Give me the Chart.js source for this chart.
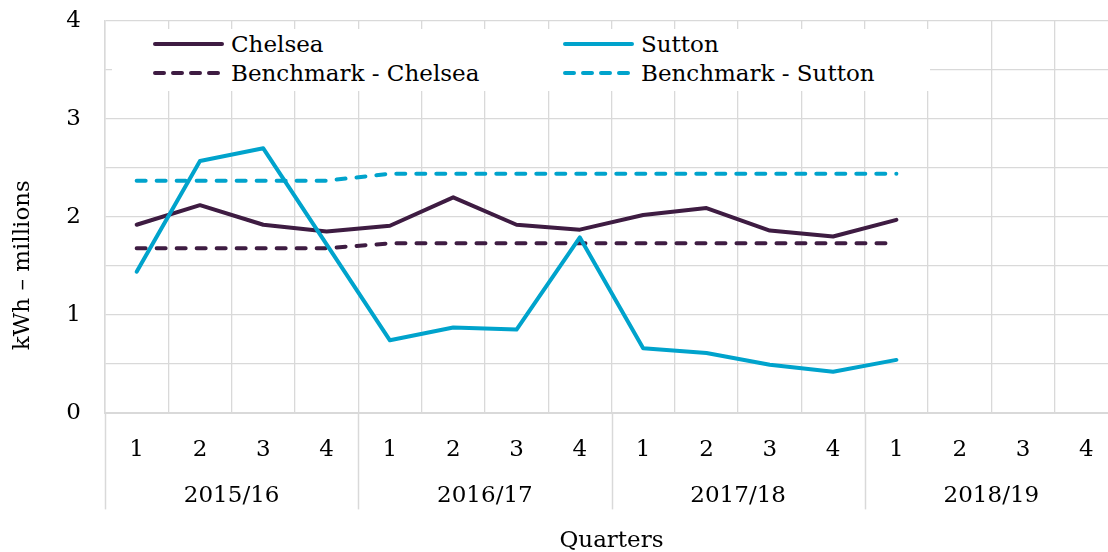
<!DOCTYPE html>
<html>
<head>
<meta charset="utf-8">
<script src="https://cdn.jsdelivr.net/npm/chart.js@4"></script>
<style>
  html, body { margin: 0; padding: 0; background: #fff; overflow: hidden; }
  #wrap { position: relative; width: 1120px; height: 552px; }
  #legend { position: absolute; left: 112px; top: 29px; width: 818px; height: 62px; background: #fff;
    font-family: 'DejaVu Serif', serif; font-size: 23px; color: #000; }
  .item { position: absolute; display: flex; align-items: center; height: 28px; white-space: nowrap; }
  .item svg { margin-right: 7px; }
</style>
</head>
<body>
<div id="wrap">
  <canvas id="myChart" width="1120" height="552"></canvas>
  <div id="legend"></div>
</div>
<script>
// quarters and financial years
const quarters = ['1','2','3','4','1','2','3','4','1','2','3','4','1','2','3','4'];
const years = ['2015/16', '2016/17', '2017/18', '2018/19'];

// kWh (millions) per quarter
const chelsea = [1.92, 2.12, 1.92, 1.85, 1.91, 2.20, 1.92, 1.87, 2.02, 2.09, 1.86, 1.80, 1.97, null, null, null];
const sutton = [1.44, 2.57, 2.70, 1.72, 0.74, 0.87, 0.85, 1.79, 0.66, 0.61, 0.49, 0.42, 0.54, null, null, null];
const benchChelsea = [1.68, 1.68, 1.68, 1.68, 1.73, 1.73, 1.73, 1.73, 1.73, 1.73, 1.73, 1.73, 1.73, null, null, null];
const benchSutton = [2.37, 2.37, 2.37, 2.37, 2.44, 2.44, 2.44, 2.44, 2.44, 2.44, 2.44, 2.44, 2.44, null, null, null];

const purple = '#3e1c42';
const cyan = '#00a3cc';
const gridGrey = '#d9d9d9';
const font = { family: "'DejaVu Serif', serif", size: 23 };

function yearLineEnd(chart) {
  const x2 = chart.scales.x2;
  return x2.top + x2.options.ticks.padding + font.size * 1.2;
}

// y axis title, centred on the whole axis (plot + category labels)
const yTitle = {
  id: 'yTitle',
  afterDraw(chart) {
    const ctx = chart.ctx;
    const mid = (chart.chartArea.top + yearLineEnd(chart)) / 2;
    ctx.save();
    ctx.translate(23, mid);
    ctx.rotate(-Math.PI / 2);
    ctx.font = "23px 'DejaVu Serif'";
    ctx.fillStyle = '#000';
    ctx.textAlign = 'center';
    ctx.textBaseline = 'middle';
    ctx.fillText('kWh \u2013 millions', 0, 0);
    ctx.restore();
  }
};

// divider lines between the years under the axis
const yearLines = {
  id: 'yearLines',
  afterDraw(chart) {
    const ctx = chart.ctx;
    const x = chart.scales.x;
    const top = chart.chartArea.bottom;
    const bottom = yearLineEnd(chart);
    ctx.save();
    ctx.strokeStyle = gridGrey;
    ctx.lineWidth = 1.5;
    for (let i = 0; i <= quarters.length; i += 4) {
      const px = Math.round(x.getPixelForValue(i - 0.5)) + 0.5;
      ctx.beginPath();
      ctx.moveTo(px, top);
      ctx.lineTo(px, bottom);
      ctx.stroke();
    }
    ctx.restore();
  }
};

const ctx = document.getElementById('myChart').getContext('2d');
const chart = new Chart(ctx, {
  type: 'line',
  data: {
    labels: quarters,
    datasets: [
      { label: 'Sutton', data: sutton, borderColor: cyan },
      { label: 'Chelsea', data: chelsea, borderColor: purple },
      { label: 'Benchmark - Sutton', data: benchSutton, borderColor: cyan, borderDash: [9, 11] },
      { label: 'Benchmark - Chelsea', data: benchChelsea, borderColor: purple, borderDash: [9, 11] }
    ]
  },
  options: {
    responsive: false,
    animation: false,
    layout: { padding: { top: 21, right: 2, left: 0, bottom: 0 } },
    elements: {
      point: { radius: 0 },
      line: { borderWidth: 4, tension: 0, fill: false, borderCapStyle: 'round', borderJoinStyle: 'round' }
    },
    plugins: {
      legend: { display: false },
      tooltip: { enabled: false }
    },
    scales: {
      y: {
        min: 0,
        max: 4,
        ticks: {
          stepSize: 0.5,
          padding: 24,
          font: font,
          color: '#000',
          callback: v => Number.isInteger(v) ? v : ''
        },
        grid: { color: gridGrey, lineWidth: 1.3, drawTicks: false },
        border: { color: gridGrey, width: 1.5 },
        afterFit: s => { s.width = 105; s.paddingTop = 0; s.paddingBottom = 0; }
      },
      x: {
        offset: true,
        grid: { offset: true, color: gridGrey, lineWidth: 1.3, drawTicks: false },
        border: { color: gridGrey, width: 2 },
        ticks: { padding: 23, font: font, color: '#000', maxRotation: 0, autoSkip: false },
        afterFit: s => { s.height = 60; }
      },
      x2: {
        type: 'category',
        labels: years,
        offset: true,
        position: 'bottom',
        grid: { display: false, drawTicks: false },
        border: { display: false },
        ticks: { padding: 9, font: font, color: '#000', maxRotation: 0 },
        title: { display: true, text: 'Quarters', font: font, color: '#000', padding: { top: 9, bottom: -3 } }
      }
    }
  },
  plugins: [yearLines, yTitle]
});

// legend box laid over the top of the plot, two columns
const legendOrder = ['Chelsea', 'Sutton', 'Benchmark - Chelsea', 'Benchmark - Sutton'];
const legendEl = document.getElementById('legend');
legendOrder.forEach((name, i) => {
  const ds = chart.data.datasets.find(d => d.label === name);
  const item = document.createElement('div');
  item.className = 'item';
  item.style.left = (i % 2 === 0 ? 41 : 451) + 'px';
  item.style.top = (i < 2 ? 1 : 30) + 'px';
  const dash = ds.borderDash ? ' stroke-dasharray="9 9"' : '';
  item.innerHTML = '<svg width="71" height="8"><line x1="2" y1="4" x2="69" y2="4" stroke="' + ds.borderColor +
    '" stroke-width="4" stroke-linecap="round"' + dash + '/></svg><span>' + name + '</span>';
  legendEl.appendChild(item);
});
</script>
</body>
</html>
